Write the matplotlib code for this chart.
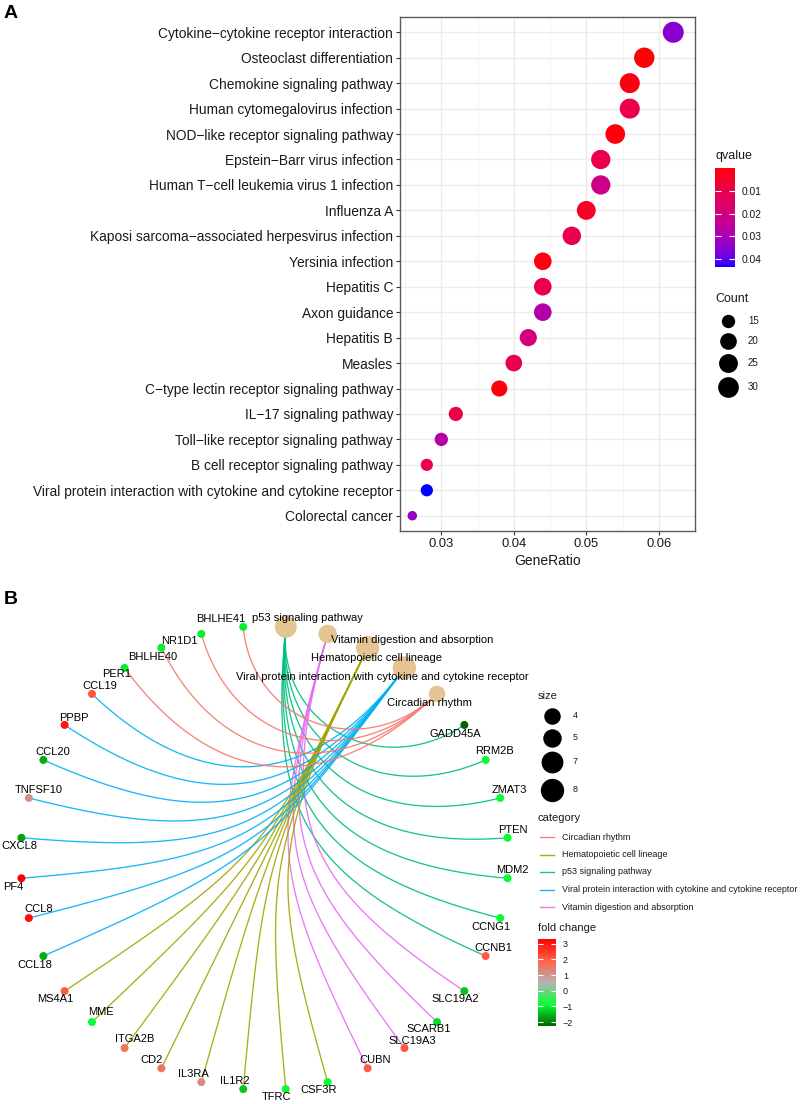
import numpy as np
import matplotlib
matplotlib.use('Agg')
import matplotlib.pyplot as plt
from matplotlib.colors import LinearSegmentedColormap, Normalize, to_rgb, ListedColormap
from matplotlib.transforms import ScaledTranslation

plt.rcParams['font.family'] = ['Liberation Sans', 'DejaVu Sans']

# ---------------- Panel A data ----------------
terms = [
    "Cytokine\u2212cytokine receptor interaction",
    "Osteoclast differentiation",
    "Chemokine signaling pathway",
    "Human cytomegalovirus infection",
    "NOD\u2212like receptor signaling pathway",
    "Epstein\u2212Barr virus infection",
    "Human T\u2212cell leukemia virus 1 infection",
    "Influenza A",
    "Kaposi sarcoma\u2212associated herpesvirus infection",
    "Yersinia infection",
    "Hepatitis C",
    "Axon guidance",
    "Hepatitis B",
    "Measles",
    "C\u2212type lectin receptor signaling pathway",
    "IL\u221217 signaling pathway",
    "Toll\u2212like receptor signaling pathway",
    "B cell receptor signaling pathway",
    "Viral protein interaction with cytokine and cytokine receptor",
    "Colorectal cancer",
]
gene_ratio = [0.062, 0.058, 0.056, 0.056, 0.054, 0.052, 0.052, 0.050, 0.048, 0.044,
              0.044, 0.044, 0.042, 0.040, 0.038, 0.032, 0.030, 0.028, 0.028, 0.026]
counts = [31, 29, 28, 28, 27, 26, 26, 25, 24, 22, 22, 22, 21, 20, 19, 16, 15, 14, 14, 13]
qvalues = [0.035, 0.0005, 0.0015, 0.010, 0.001, 0.010, 0.021, 0.004, 0.011, 0.0012,
           0.010, 0.028, 0.019, 0.010, 0.001, 0.009, 0.027, 0.010, 0.0435, 0.033]
x_ticks = [0.03, 0.04, 0.05, 0.06]
q_ticks = [0.01, 0.02, 0.03, 0.04]
count_breaks = [15, 20, 25, 30]

# ---------------- Panel B data ----------------
categories = ["p53 signaling pathway",
              "Vitamin digestion and absorption",
              "Hematopoietic cell lineage",
              "Viral protein interaction with cytokine and cytokine receptor",
              "Circadian rhythm"]
category_sizes = [7, 5, 8, 8, 4]
genes = ["GADD45A", "RRM2B", "ZMAT3", "PTEN", "MDM2", "CCNG1", "CCNB1",
         "SLC19A2", "SCARB1", "SLC19A3", "CUBN",
         "CSF3R", "TFRC", "IL1R2", "IL3RA", "CD2", "ITGA2B", "MME", "MS4A1",
         "CCL18", "CCL8", "PF4", "CXCL8", "TNFSF10", "CCL20", "PPBP", "CCL19",
         "PER1", "BHLHE40", "NR1D1", "BHLHE41"]
gene_category = ([0] * 7) + ([1] * 4) + ([2] * 8) + ([3] * 8) + ([4] * 4)
fold_change = [-2.25, -0.9, -0.9, -0.9, -0.9, -0.9, 2.0,
               -1.4, -1.2, 2.1, 2.0,
               -0.9, -0.9, -1.4, 1.2, 1.6, 1.6, -0.9, 2.0,
               -1.6, 3.1, 3.3, -1.7, 1.1, -1.6, 3.0, 2.1,
               -1.0, -1.0, -1.0, -1.0]
size_breaks = [4, 5, 7, 8]
fc_ticks = [-2, -1, 0, 1, 2, 3]
legend_order = [4, 2, 0, 3, 1]   # alphabetical legend order
cat_colors = {4: "#F8766D", 2: "#A3A500", 0: "#00BF7D", 3: "#00B0F6", 1: "#E76BF3"}

# label offsets in pixels (dx right, dy down) -- styling only
gene_offsets = [(-9, 9), (9, -9), (9, -8), (5, -8), (5, -8), (-9, 9), (8, -8),
                (-9, 8), (-8, 7), (8, -7), (8, -8),
                (-9, 8), (-9, 8), (-8, -8), (-8, -8), (-10, -8), (10, -9), (9, -10), (-9, 8),
                (-9, 9), (10, -9), (-8, 9), (-2, 8), (10, -8), (9, -8), (9, -7), (8, -8),
                (-8, 6), (-9, 9), (-22, 7), (-22, -8)]
cat_offsets = [(22, -9), (85, 6), (9, 10), (-22, 9), (-8, 9)]

W, H = 800, 1104
fig = plt.figure(figsize=(W / 100, H / 100), dpi=100)


def px_box(x0, y0, x1, y1):
    return [x0 / W, 1 - y1 / H, (x1 - x0) / W, (y1 - y0) / H]


# ---- Lab interpolation (ggplot-like gradient) ----
_M = np.array([[0.4124, 0.3576, 0.1805], [0.2126, 0.7152, 0.0722], [0.0193, 0.1192, 0.9505]])
_WP = np.array([0.95047, 1.0, 1.08883])


def _to_lab(rgb):
    c = np.array(rgb, float)
    lin = np.where(c <= 0.04045, c / 12.92, ((c + 0.055) / 1.055) ** 2.4)
    xyz = _M @ lin / _WP
    d = 6 / 29
    f = np.where(xyz > d ** 3, np.cbrt(xyz), xyz / (3 * d * d) + 4 / 29)
    return np.array([116 * f[1] - 16, 500 * (f[0] - f[1]), 200 * (f[1] - f[2])])


def _from_lab(lab):
    L, a, b = lab
    fy = (L + 16) / 116
    f = np.array([fy + a / 500, fy, fy - b / 200])
    d = 6 / 29
    xyz = np.where(f > d, f ** 3, 3 * d * d * (f - 4 / 29)) * _WP
    lin = np.clip(np.linalg.inv(_M) @ xyz, 0, 1)
    c = np.where(lin <= 0.0031308, 12.92 * lin, 1.055 * lin ** (1 / 2.4) - 0.055)
    return np.clip(c, 0, 1)


lab_lo, lab_hi = _to_lab(to_rgb("red")), _to_lab(to_rgb("blue"))
q_cmap = ListedColormap([_from_lab(lab_lo + (lab_hi - lab_lo) * t) for t in np.linspace(0, 1, 256)])

# ================= Panel A =================
axA = fig.add_axes(px_box(400, 17, 695, 531))
n = len(terms)
ypos = np.arange(n, 0, -1)
cmin, cmax = min(counts), max(counts)
diam = 9.5 + 11.5 * np.sqrt((np.array(counts) - cmin) / (cmax - cmin))
q_norm = Normalize(vmin=0.0, vmax=max(qvalues))
sc = axA.scatter(gene_ratio, ypos, s=(diam * 0.72) ** 2, c=qvalues, cmap=q_cmap, norm=q_norm,
                 linewidths=0, zorder=3)
axA.set_ylim(0.4, n + 0.6)
axA.set_xlim(0.0243, 0.0634)
axA.set_yticks(ypos)
axA.set_yticklabels(terms)
axA.set_xticks(x_ticks)
axA.set_xticklabels([f"{t:.2f}" for t in x_ticks])
axA.set_xticks([t + 0.005 for t in [0.02] + x_ticks], minor=True)
axA.grid(True, which='major', color='#EBEBEB', lw=1.0, zorder=0)
axA.grid(True, which='minor', axis='x', color='#F2F2F2', lw=0.6, zorder=0)
axA.set_axisbelow(True)
axA.tick_params(axis='both', which='major', length=3, width=0.8, color='#333333',
                labelcolor='#1a1a1a', pad=2)
axA.tick_params(axis='y', labelsize=9.9)
axA.tick_params(axis='x', labelsize=9.4)
axA.tick_params(which='minor', length=0)
for sp in axA.spines.values():
    sp.set_color('#5a5a5a')
    sp.set_linewidth(1.0)
axA.set_xlabel("GeneRatio", fontsize=10, color='#1a1a1a', labelpad=3)

# qvalue colorbar
caxA = fig.add_axes(px_box(715, 168, 735, 267))
cb = fig.colorbar(sc, cax=caxA, ticks=q_ticks)
cb.outline.set_visible(False)
caxA.invert_yaxis()
caxA.tick_params(direction='in', length=4, width=0.8, color='white', left=True, right=True,
                 labelsize=7.4, labelcolor='#1a1a1a', pad=5)
cb.set_ticklabels([f"{t:.2f}" for t in q_ticks])

# overlay for legends and panel letters
axO = fig.add_axes([0, 0, 1, 1])
axO.set_xlim(0, W)
axO.set_ylim(H, 0)
axO.axis('off')
axO.patch.set_visible(False)

axO.text(715, 156, "qvalue", fontsize=9, ha='left', va='center', color='#1a1a1a')
axO.text(715, 299, "Count", fontsize=9, ha='left', va='center', color='#1a1a1a')
leg_y = [321, 341, 363, 387]
for v, yy in zip(count_breaks, leg_y):
    d = 9.5 + 11.5 * np.sqrt((v - cmin) / (cmax - cmin))
    axO.scatter([728], [yy], s=(d * 0.72) ** 2, color='black', linewidths=0)
    axO.text(748, yy, str(v), fontsize=7, ha='left', va='center', color='#1a1a1a')

axO.text(4, 14, "A", fontsize=14, fontweight='bold', ha='left', va='center')
axO.text(4, 599, "B", fontsize=14, fontweight='bold', ha='left', va='center')

# ================= Panel B =================
cx, cy, rx, ry, ext = 264.5, 858, 244, 232, 1.06
axB = fig.add_axes(px_box(cx - rx * ext, cy - ry * ext, cx + rx * ext, cy + ry * ext))
axB.set_xlim(-ext, ext)
axB.set_ylim(-ext, ext)
axB.axis('off')
axB.patch.set_visible(False)

nodes = categories + genes
N = len(nodes)
ang = np.deg2rad(90 - (np.arange(N) + 0.5) * 360 / N)
pos = np.column_stack([np.cos(ang), np.sin(ang)])
nc = len(categories)

t = np.linspace(0, 1, 80)[:, None]
for gi, ci in enumerate(gene_category):
    A = pos[ci]
    B = pos[nc + gi]
    chord = np.linalg.norm(A - B)
    c = 1 - chord / 2
    P1, P2 = A * c, B * c
    curve = ((1 - t) ** 3) * A + 3 * ((1 - t) ** 2) * t * P1 + 3 * (1 - t) * t ** 2 * P2 + t ** 3 * B
    axB.plot(curve[:, 0], curve[:, 1], color=cat_colors[ci], lw=0.95, alpha=0.9,
             solid_capstyle='round', zorder=1)

# fold change colormap
fc_colors = ["darkgreen", "#0AFF34", "#B3B3B3", "#FF6347", "red"]
fc_cmap = LinearSegmentedColormap.from_list("fc", fc_colors)
fc_norm = Normalize(vmin=min(fold_change), vmax=max(fold_change))

gp = pos[nc:]
sg = axB.scatter(gp[:, 0], gp[:, 1], s=(8 * 0.72) ** 2, c=fold_change, cmap=fc_cmap,
                 norm=fc_norm, linewidths=0, zorder=3)
cp = pos[:nc]
cd = 8.25 * np.sqrt(np.array(category_sizes))
axB.scatter(cp[:, 0], cp[:, 1], s=(cd * 0.72) ** 2, color="#E5C494", linewidths=0, zorder=3)


def off(dx, dy):
    return axB.transData + ScaledTranslation(dx / 100, -dy / 100, fig.dpi_scale_trans)


for i, g in enumerate(genes):
    dx, dy = gene_offsets[i]
    axB.text(gp[i, 0], gp[i, 1], g, transform=off(dx, dy), fontsize=8.0,
             ha='center', va='center', color='black', zorder=4)
for i, cname in enumerate(categories):
    dx, dy = cat_offsets[i]
    axB.text(cp[i, 0], cp[i, 1], cname, transform=off(dx, dy), fontsize=8,
             ha='center', va='center', color='black', zorder=4)

# size legend
axO.text(538, 696, "size", fontsize=8, ha='left', va='center', color='#1a1a1a')
for v, yy in zip(size_breaks, [716, 738, 762, 790]):
    d = 8.25 * np.sqrt(v)
    axO.scatter([552], [yy], s=(d * 0.72) ** 2, color='black', linewidths=0)
    axO.text(573, yy, str(v), fontsize=6.5, ha='left', va='center', color='#1a1a1a')

# category legend
axO.text(538, 818, "category", fontsize=8, ha='left', va='center', color='#1a1a1a')
for k, ci in enumerate(legend_order):
    yy = 837 + k * 17.5
    axO.plot([540, 554], [yy, yy], color=cat_colors[ci], lw=1.0, alpha=0.9)
    axO.text(562, yy, categories[ci], fontsize=6.5, ha='left', va='center', color='#1a1a1a')

# fold change colorbar
axO.text(538, 928, "fold change", fontsize=8, ha='left', va='center', color='#1a1a1a')
caxB = fig.add_axes(px_box(538, 939, 556, 1026))
cb2 = fig.colorbar(sg, cax=caxB, ticks=fc_ticks)
cb2.outline.set_visible(False)
caxB.tick_params(direction='in', length=3.5, width=0.8, color='white', left=True, right=True,
                 labelsize=6.5, labelcolor='#1a1a1a', pad=5)
cb2.set_ticklabels([str(v).replace('-', '\u2212') for v in fc_ticks])

fig.savefig("out.png", dpi=100)
